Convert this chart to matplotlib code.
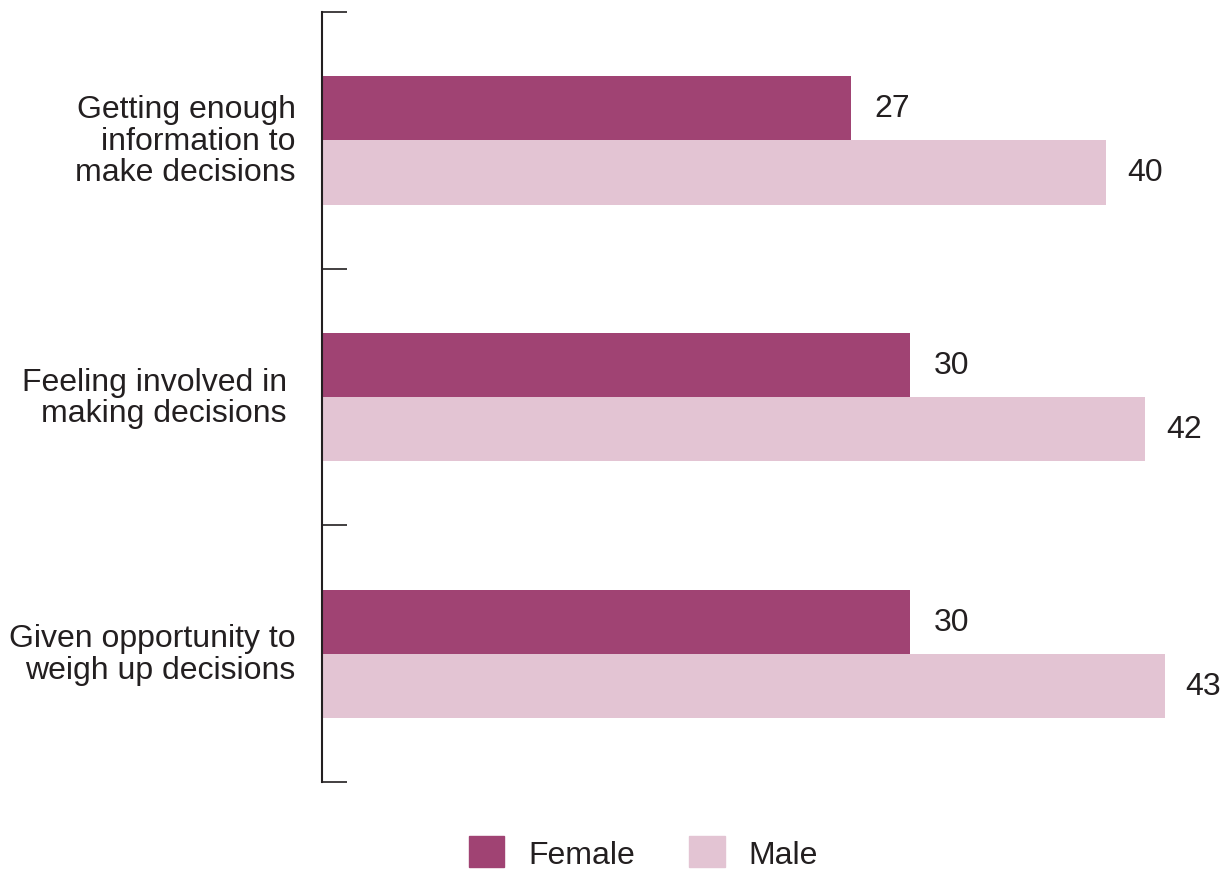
import matplotlib
matplotlib.use("Agg")
import matplotlib.pyplot as plt
import numpy as np

categories = ["Getting enough\ninformation to\nmake decisions",
              "Feeling involved in \nmaking decisions ",
              "Given opportunity to\nweigh up decisions"]
female = [27, 30, 30]
male = [40, 42, 43]
series_names = ["Female", "Male"]
colors = ["#A04373", "#E3C4D3"]
text_color = "#231F20"

plt.rcParams['font.family'] = ['Liberation Sans', 'DejaVu Sans']
W, H = 1226, 870
fig = plt.figure(figsize=(W / 100, H / 100), dpi=100)
ax_left, ax_bottom, ax_w, ax_h = 322, 87, 900, 770
ax = fig.add_axes([ax_left / W, ax_bottom / H, ax_w / W, ax_h / H])

y = np.arange(len(categories))
bh = 0.25
ax.barh(y - bh / 2, female, height=bh, color=colors[0], label=series_names[0])
ax.barh(y + bh / 2, male, height=bh, color=colors[1], label=series_names[1])

fs = 23
for yi, v in zip(y - bh / 2, female):
    ax.annotate(str(v), (v, yi), xytext=(17, 0), textcoords="offset points",
                va="center", ha="left", fontsize=fs, color=text_color)
for yi, v in zip(y + bh / 2, male):
    ax.annotate(str(v), (v, yi), xytext=(15, 0), textcoords="offset points",
                va="center", ha="left", fontsize=fs, color=text_color)

ax.set_xlim(0, ax_w / 19.6)
ax.set_ylim(2.5, -0.5)
ax.set_yticks(y - 0.015)
ax.set_yticklabels(categories, fontsize=fs, color=text_color, linespacing=1.06)
ax.tick_params(axis="y", which="major", length=0, pad=19)
ax.set_yticks([-0.5, 0.5, 1.5, 2.5], minor=True)
ax.tick_params(axis="y", which="minor", direction="in", length=18, width=1.2, color="#231F20")
ax.set_xticks([])
for s in ["top", "right", "bottom"]:
    ax.spines[s].set_visible(False)
ax.spines["left"].set_color("#231F20")
ax.spines["left"].set_linewidth(1.5)

handles = [plt.Rectangle((0, 0), 1, 1, color=c) for c in colors]
fig.legend(handles, series_names, loc="center", bbox_to_anchor=(0.525, 1 - 854 / H),
           ncol=2, frameon=False, fontsize=fs, handlelength=1.1, handleheight=1.1,
           handletextpad=0.75, columnspacing=1.7, labelcolor=text_color)

fig.savefig("out.png", dpi=100)
